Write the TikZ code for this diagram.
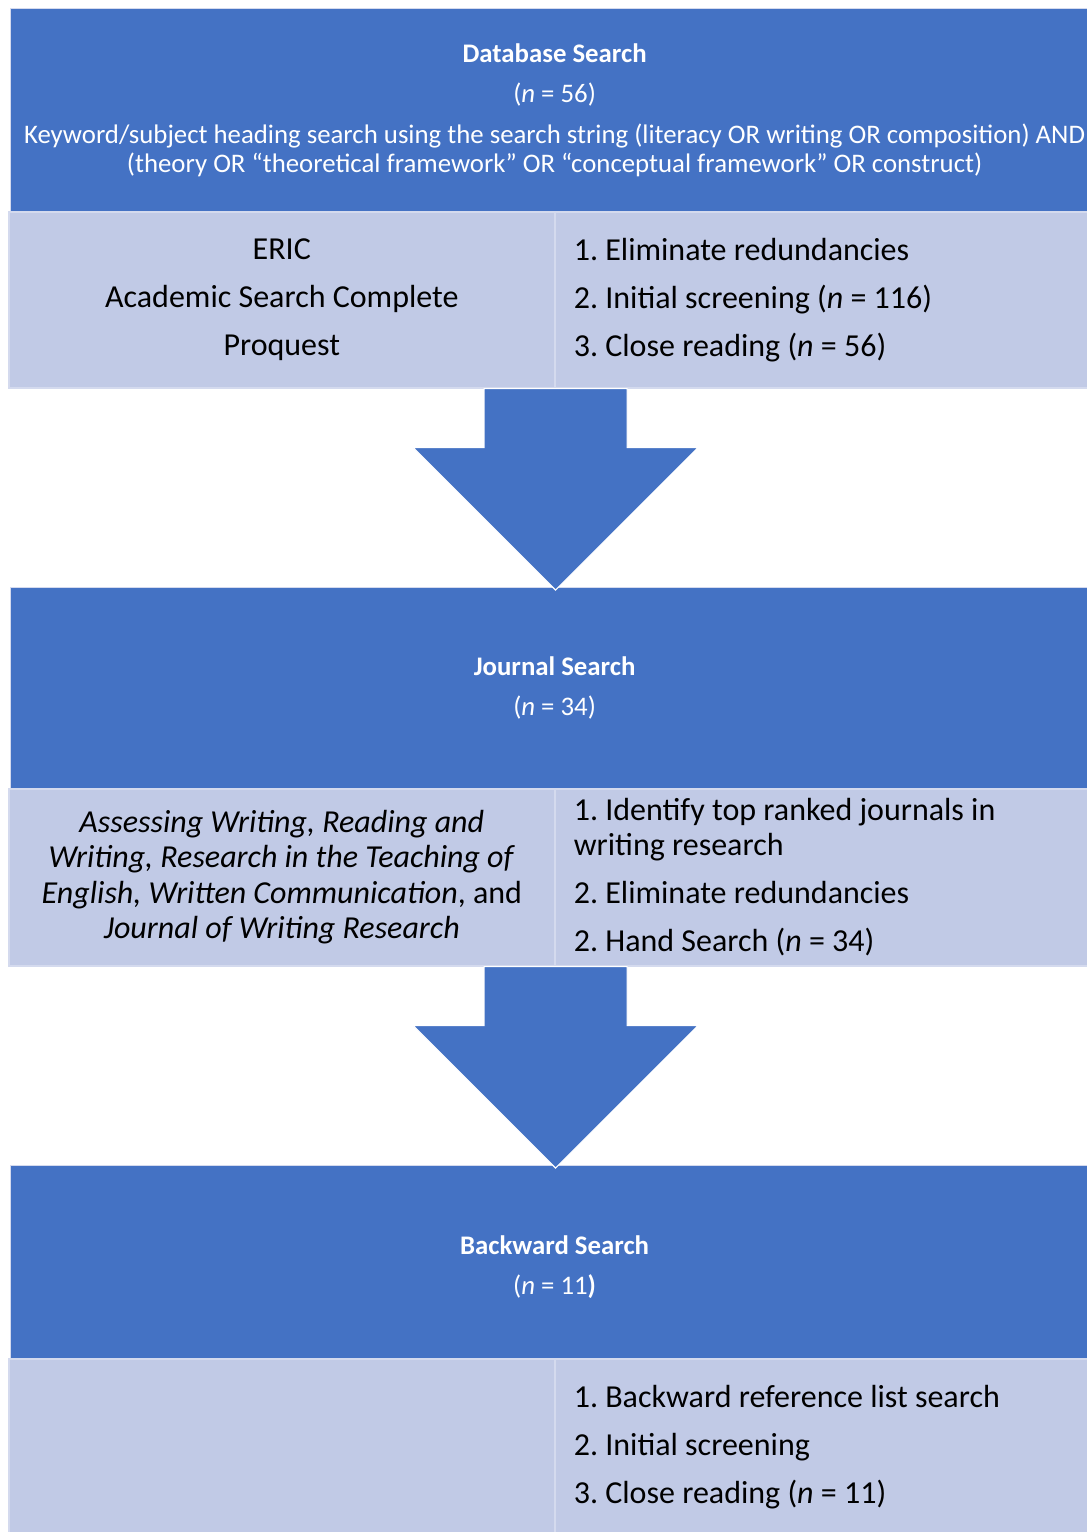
\documentclass[tikz,border=0pt]{standalone}
\usepackage{fontspec}
\setmainfont{Carlito}
\usetikzlibrary{calc}
\frenchspacing

\definecolor{boxblue}{RGB}{68,114,196}
\definecolor{cellblue}{RGB}{193,202,230}
\definecolor{gridline}{RGB}{212,218,238}

\begin{document}
\begin{tikzpicture}[x=0.5pt, y=-0.5pt]
    \tikzset{
        head_box/.style={fill=boxblue, draw=gridline, line width=0.6pt, anchor=north west,
            minimum width=544pt, text=white, align=center, inner sep=0pt,
            font=\fontsize{13.4}{14.6}\selectfont},
        left_cell/.style={fill=cellblue, draw=gridline, line width=0.8pt, anchor=north west,
            minimum width=273pt, align=center, inner sep=0pt,
            font=\fontsize{16}{17.75}\selectfont},
        right_cell/.style={fill=cellblue, draw=gridline, line width=0.8pt, anchor=north west,
            text width=249pt, inner xsep=9.5pt, inner ysep=0pt, align=flush left,
            font=\fontsize{16}{17.75}\selectfont},
        block_arrow/.style={fill=boxblue, draw=white, line width=0.6pt}
    }
    \useasboundingbox (0,0) rectangle (1087,1532);

    % database search
    \node[head_box, minimum height=101.5pt] (db_head) at (10,8)
        {\textbf{Database Search}\\[5.5pt]
         (\textit{n} = 56)\\[6pt]
         Keyword/subject heading search using the search string (literacy OR writing OR composition) AND\\
         (theory OR “theoretical framework” OR “conceptual framework” OR construct)};
    \node[left_cell, minimum height=88pt] (db_left) at (8,211)
        {ERIC\\[6.25pt] Academic Search Complete\\[6.25pt] Proquest};
    \node[right_cell, minimum height=88pt] (db_right) at (554,211)
        {1. Eliminate redundancies\\[6.25pt]
         2. Initial screening (\textit{n} = 116)\\[6.25pt]
         3. Close reading (\textit{n} = 56)};

    % journal search
    \node[head_box, minimum height=100.5pt] (jr_head) at (10,587)
        {\textbf{Journal Search}\\[5.5pt] (\textit{n} = 34)};
    \node[left_cell, minimum height=88.5pt] (jr_left) at (8,788)
        {\textit{Assessing Writing, Reading and}\\
         \textit{Writing, Research in the Teaching of}\\
         \textit{English, Written Communication}, and\\
         \textit{Journal of Writing Research}};
    \node[right_cell, minimum height=88.5pt] (jr_right) at (554,788)
        {1. Identify top ranked journals in\\ writing research\\[6.25pt]
         2. Eliminate redundancies\\[6.25pt]
         2. Hand Search (\textit{n} = 34)};

    % backward search
    \node[head_box, minimum height=96.5pt] (bw_head) at (10,1165)
        {\mbox{}\\[-0.5pt]\textbf{Backward Search}\\[5.5pt] (\textit{n} = 11\textbf{)}};
    \node[left_cell, minimum height=88pt] (bw_left) at (8,1358) {};
    \node[right_cell, minimum height=88pt] (bw_right) at (554,1358)
        {1. Backward reference list search\\[6.25pt]
         2. Initial screening\\[6.25pt]
         3. Close reading (\textit{n} = 11)};

    \foreach \a/\b in {db_left/jr_head, jr_left/bw_head} {
        \coordinate (tip) at ($(\b.north west -| \a.south east)+(0,3)$);
        \draw[block_arrow] ($(\a.south east)+(-71.5,0)$) -- ++(143,0) -- ++(0,59)
            -- ++(71,0) -- (tip) -- ($(\a.south east)+(-142.5,59)$) -- ++(71,0) -- cycle;
    }
\end{tikzpicture}
\end{document}
